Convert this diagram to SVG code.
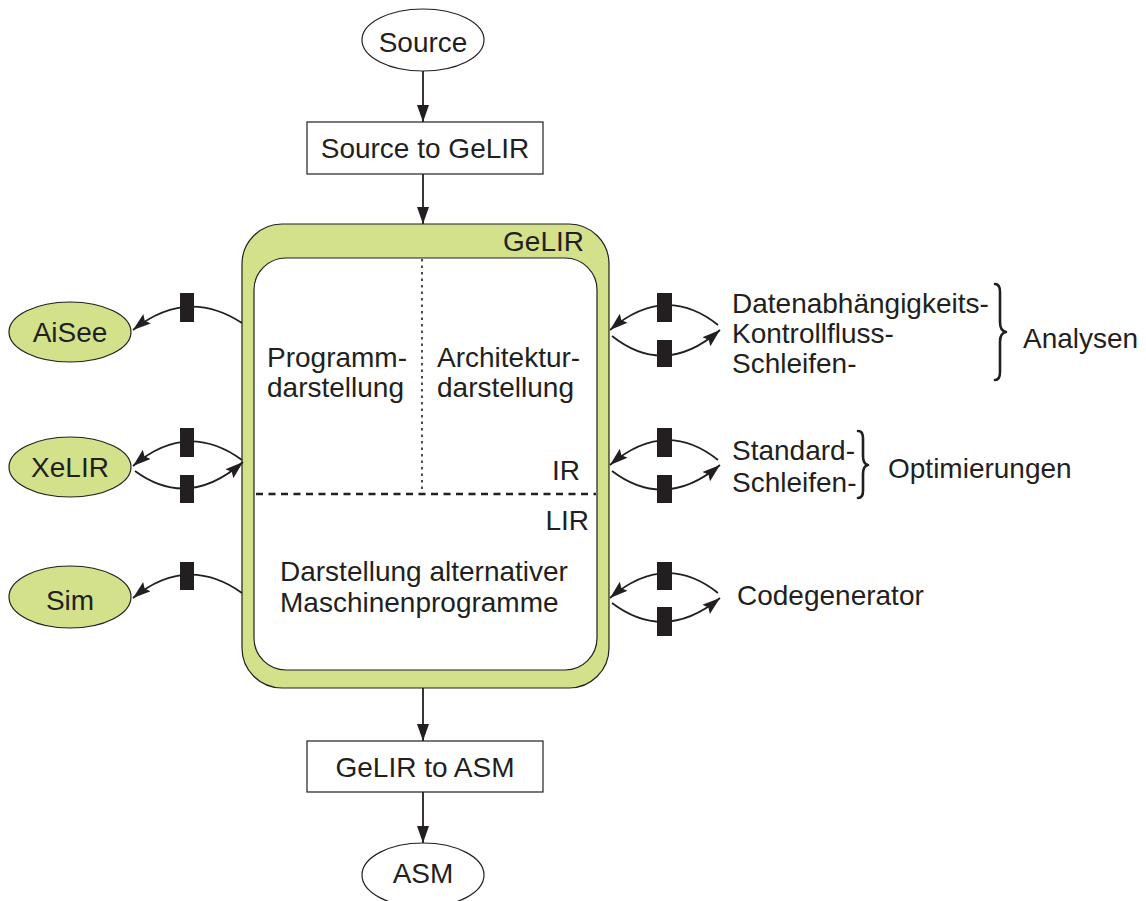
<svg xmlns="http://www.w3.org/2000/svg" width="1146" height="901" viewBox="0 0 1146 901">
  <style>
    text { font-family: "Liberation Sans", Arial, sans-serif; font-size: 28px; fill: #231f20; }
    .mid { text-anchor: middle; }
    .end { text-anchor: end; }
    .box { fill: #ffffff; stroke: #231f20; stroke-width: 1.2; }
    .green { fill: #d3e28a; stroke: #231f20; stroke-width: 1.2; }
    .flow { fill: none; stroke: #231f20; stroke-width: 1.8; }
    .curve { fill: none; stroke: #231f20; stroke-width: 1.8; }
    .port { fill: #231f20; }
    .brace { fill: none; stroke: #231f20; stroke-width: 2.6; stroke-linecap: round; stroke-linejoin: round; }
  </style>
  <defs>
    <marker id="arrow" markerUnits="userSpaceOnUse" markerWidth="18" markerHeight="13" refX="17" refY="6" orient="auto">
      <path d="M0,0 L17,6 L0,12 z" fill="#231f20"/>
    </marker>
    <marker id="arrowSmall" markerUnits="userSpaceOnUse" markerWidth="19" markerHeight="13" refX="18" refY="6" orient="auto">
      <path d="M0,0 L18,6 L0,12 L3,6 z" fill="#231f20"/>
    </marker>
  </defs>

  <!-- main flow nodes -->
  <g id="source">
    <ellipse class="box" cx="423" cy="40" rx="61" ry="31"/>
    <text class="mid" x="423" y="52">Source</text>
  </g>
  <g id="source-to-gelir">
    <rect class="box" x="307" y="122" width="236" height="52"/>
    <text class="mid" x="425" y="158">Source to GeLIR</text>
  </g>

  <g id="gelir">
    <rect class="green" x="242" y="224" width="367" height="464" rx="40" ry="40"/>
    <rect class="box" x="254" y="258" width="343" height="412" rx="32" ry="32"/>
    <text class="end" x="584" y="251">GeLIR</text>
    <line x1="422" y1="259" x2="422" y2="494" stroke="#231f20" stroke-width="1.6" stroke-dasharray="2.5,4"/>
    <line x1="256" y1="494" x2="596" y2="494" stroke="#231f20" stroke-width="2.6" stroke-dasharray="7,5.5"/>
    <text x="267" y="367">Programm-</text>
    <text x="267" y="397">darstellung</text>
    <text x="437" y="367">Architektur-</text>
    <text x="437" y="397">darstellung</text>
    <text class="end" x="580" y="480">IR</text>
    <text class="end" x="589" y="530">LIR</text>
    <text x="280" y="581">Darstellung alternativer</text>
    <text x="280" y="612">Maschinenprogramme</text>
  </g>

  <g id="gelir-to-asm">
    <rect class="box" x="307" y="741" width="236" height="51"/>
    <text class="mid" x="425" y="777">GeLIR to ASM</text>
  </g>
  <g id="asm">
    <ellipse class="box" cx="423" cy="875" rx="61" ry="32"/>
    <text class="mid" x="423" y="883">ASM</text>
  </g>

  <!-- tools on the left -->
  <g id="aisee">
    <ellipse class="green" cx="70" cy="332" rx="61" ry="30"/>
    <text class="mid" x="70" y="342">AiSee</text>
  </g>
  <g id="xelir">
    <ellipse class="green" cx="70" cy="467" rx="61" ry="30"/>
    <text class="mid" x="70" y="477">XeLIR</text>
  </g>
  <g id="sim">
    <ellipse class="green" cx="70" cy="597" rx="61" ry="31"/>
    <text class="mid" x="70" y="610">Sim</text>
  </g>

  <!-- passes on the right -->
  <g id="analysen">
    <text x="732" y="313">Datenabhängigkeits-</text>
    <text x="732" y="343">Kontrollfluss-</text>
    <text x="732" y="373">Schleifen-</text>
    <path class="brace" d="M995,284 Q1000,284 1000,292 L1000,322 Q1000,331 1006,332 Q1000,333 1000,342 L1000,372 Q1000,380 995,380"/>
    <text x="1023" y="348">Analysen</text>
  </g>
  <g id="optimierungen">
    <text x="732" y="460">Standard-</text>
    <text x="732" y="492">Schleifen-</text>
    <path class="brace" d="M858,431 Q863,431 863,438 L863,456 Q863,464 868,465 Q863,466 863,474 L863,491 Q863,498 858,498"/>
    <text x="888" y="478">Optimierungen</text>
  </g>
  <g id="codegenerator">
    <text x="737" y="605">Codegenerator</text>
  </g>

  <!-- connectors -->
  <g id="connectors">
    <line class="flow" x1="423" y1="71" x2="423" y2="122" marker-end="url(#arrow)"/>
    <line class="flow" x1="423" y1="174" x2="423" y2="224" marker-end="url(#arrow)"/>
    <line class="flow" x1="423" y1="688" x2="423" y2="741" marker-end="url(#arrow)"/>
    <line class="flow" x1="423" y1="792" x2="423" y2="843" marker-end="url(#arrow)"/>

    <!-- left: GeLIR to AiSee -->
    <path class="curve" d="M242,323 Q187,287 133,330" marker-end="url(#arrowSmall)"/>
    <rect class="port" x="180" y="293" width="14" height="29"/>

    <!-- left: GeLIR <-> XeLIR -->
    <path class="curve" d="M242,460 Q187,420 133,466" marker-end="url(#arrowSmall)"/>
    <rect class="port" x="180" y="428" width="14" height="29"/>
    <path class="curve" d="M135,471 Q188,510 243,462" marker-end="url(#arrowSmall)"/>
    <rect class="port" x="180" y="475" width="14" height="28"/>

    <!-- left: GeLIR to Sim -->
    <path class="curve" d="M242,593 Q187,554 133,598" marker-end="url(#arrowSmall)"/>
    <rect class="port" x="180" y="562" width="14" height="28"/>

    <!-- right: Analysen -->
    <path class="curve" d="M718,325 Q665,283 610,330" marker-end="url(#arrowSmall)"/>
    <rect class="port" x="657" y="293" width="15" height="29"/>
    <path class="curve" d="M612,336 Q665,378 720,330" marker-end="url(#arrowSmall)"/>
    <rect class="port" x="657" y="340" width="15" height="27"/>

    <!-- right: Optimierungen -->
    <path class="curve" d="M718,460 Q665,418 610,465" marker-end="url(#arrowSmall)"/>
    <rect class="port" x="657" y="428" width="15" height="29"/>
    <path class="curve" d="M612,471 Q665,511 720,465" marker-end="url(#arrowSmall)"/>
    <rect class="port" x="657" y="475" width="15" height="28"/>

    <!-- right: Codegenerator -->
    <path class="curve" d="M718,593 Q665,551 610,598" marker-end="url(#arrowSmall)"/>
    <rect class="port" x="657" y="562" width="15" height="28"/>
    <path class="curve" d="M612,603 Q665,643 720,598" marker-end="url(#arrowSmall)"/>
    <rect class="port" x="657" y="607" width="15" height="29"/>
  </g>
</svg>
